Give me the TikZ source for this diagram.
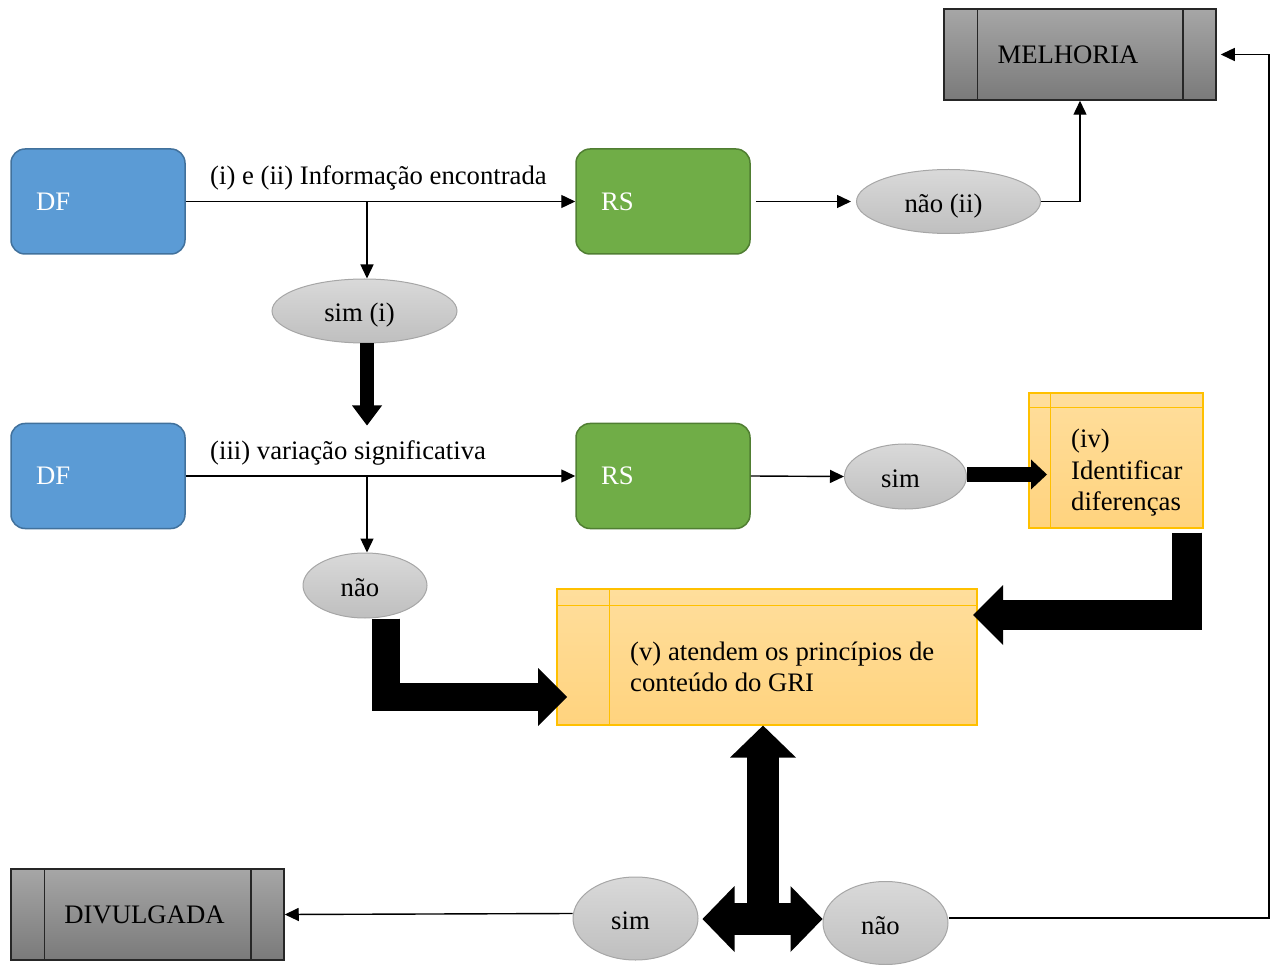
\documentclass[tikz,border=0pt]{standalone}
\usepackage{fontspec}
\setmainfont{Liberation Serif}
\usetikzlibrary{arrows.meta,shapes.geometric,calc}

\definecolor{dfblue}{HTML}{5B9BD5}
\definecolor{dfedge}{HTML}{41719C}
\definecolor{rsgreen}{HTML}{70AD47}
\definecolor{rsedge}{HTML}{507E32}
\definecolor{ylwtop}{HTML}{FFDE9C}
\definecolor{ylwbot}{HTML}{FFD37E}
\definecolor{ylwedge}{HTML}{FFC000}
\definecolor{elltop}{HTML}{D9D9D9}
\definecolor{ellbot}{HTML}{BFBFBF}
\definecolor{elledge}{HTML}{A6A6A6}
\definecolor{grytop}{HTML}{A6A6A6}
\definecolor{grybot}{HTML}{7A7A7A}
\definecolor{gryedge}{HTML}{262626}

\begin{document}
\begin{tikzpicture}[x=1pt,y=-1pt,
  every node/.style={font=\fontsize{26.7}{31.5}\selectfont},
  srcbox/.style={rectangle, rounded corners=14pt, minimum width=174pt,
    minimum height=105pt, text width=124pt, inner xsep=25pt, align=left,
    text=white, line width=1.5pt},
  dfbox/.style={srcbox, fill=dfblue, draw=dfedge},
  rsbox/.style={srcbox, fill=rsgreen, draw=rsedge},
  ell/.style={ellipse, draw=elledge, line width=1pt, top color=elltop,
    bottom color=ellbot, inner sep=0pt, text height=24pt, text depth=2pt,
    execute at begin node=\hspace*{-10pt}},
  grybox/.style={rectangle, draw=gryedge, line width=1.5pt, top color=grytop,
    bottom color=grybot, minimum width=272pt, minimum height=91pt, inner sep=0pt},
  ylwbox/.style={rectangle, draw=ylwedge, line width=1.2pt, top color=ylwtop,
    bottom color=ylwbot, inner sep=0pt},
  txt/.style={inner sep=0pt, anchor=west, align=left},
  conn/.style={line width=1.4pt, -{Triangle[length=14pt,width=13pt]}},
  fat/.style={line width=#1, line join=miter, line cap=butt},
]
\useasboundingbox (0,0) rectangle (1275,965);

% source / result boxes
\node[dfbox] (df1) at (98,201.5) {DF};
\node[rsbox] (rs1) at (663,201.5) {RS};
\node[dfbox] (df2) at (98,476) {DF};
\node[rsbox] (rs2) at (663,476) {RS};

% decision ellipses
\node[ell, minimum width=185pt, minimum height=64pt] (simi) at (364.5,311) {sim (i)};
\node[ell, minimum width=184pt, minimum height=64pt] (naoii) at (948.5,201.5) {não (ii)};
\node[ell, minimum width=122pt, minimum height=65pt] (sim1) at (905.5,476.5) {sim};
\node[ell, minimum width=124pt, minimum height=65pt] (nao1) at (365,585.5) {não};
\node[ell, minimum width=125pt, minimum height=83pt] (sim2) at (635.5,918.5) {sim};
\node[ell, minimum width=125pt, minimum height=83pt] (nao2) at (885.5,923) {não};

% outcome boxes
\node[grybox] (mel) at (1080,54.5) {\hspace*{-24pt}MELHORIA};
\draw[gryedge, line width=1.5pt] ([xshift=34pt]mel.north west) -- ([xshift=34pt]mel.south west)
  ([xshift=-34pt]mel.north east) -- ([xshift=-34pt]mel.south east);
\node[grybox, minimum width=273pt] (div) at (147.5,914.5) {\hspace*{-6pt}DIVULGADA};
\draw[gryedge, line width=1.5pt] ([xshift=34pt]div.north west) -- ([xshift=34pt]div.south west)
  ([xshift=-34pt]div.north east) -- ([xshift=-34pt]div.south east);

% process boxes
\node[ylwbox, minimum width=174pt, minimum height=135pt] (iv) at (1116,460.5) {};
\draw[ylwedge, line width=1.2pt] ([yshift=-15pt]iv.north west) -- ([yshift=-15pt]iv.north east)
  ([xshift=22pt]iv.north west) -- ([xshift=22pt]iv.south west);
\node[txt] (ivtext) at (1071,473) {(iv)\\Identificar\\diferenças};

\node[ylwbox, minimum width=420pt, minimum height=136pt] (v) at (767,657) {};
\draw[ylwedge, line width=1.2pt] ([yshift=-17pt]v.north west) -- ([yshift=-17pt]v.north east)
  ([xshift=53pt]v.north west) -- ([xshift=53pt]v.south west);
\node[txt] (vtext) at (630,667) {(v) atendem os princípios de\\conteúdo do GRI};

% line labels
\node[txt] (lab1) at (210,178) {(i) e (ii) Informação encontrada};
\node[txt] (lab2) at (210,453) {(iii) variação significativa};

% thin connectors
\draw[conn] (df1.east) -- (rs1.west);
\coordinate (j1) at (367,201.5);
\draw[conn] (j1) -- (j1 |- simi.north);
\draw[conn] ([xshift=5pt]rs1.east) -- ([xshift=-5pt]naoii.west);
\draw[conn] (naoii.east) -| (mel.south);
\draw[conn] (df2.east) -- (rs2.west);
\coordinate (j2) at (367,476);
\draw[conn] (j2) -- (j2 |- nao1.north);
\draw[conn] (rs2.east) -- (sim1.west);
\draw[conn] ([yshift=5pt]sim2.west) -- (div.east);
\coordinate (cr) at (1269,54.5);
\draw[conn] ([yshift=5pt]nao2.east) -| (cr) -- ([xshift=4pt]mel.east);

% block arrows (tip, then the shaft again reaching into the tip)
\draw[fat=14pt, -{Triangle[length=20pt,width=30pt,line width=0pt]}]
  ([xshift=2.5pt]simi.south) -- ++(0,82);
\draw[fat=14pt, shorten >=14pt] ([xshift=2.5pt]simi.south) -- ++(0,82);

\draw[fat=15pt, -{Triangle[length=16pt,width=30pt,line width=0pt]}]
  ([yshift=2pt]sim1.east) -- ++(80,0);
\draw[fat=15pt, shorten >=10pt] ([yshift=2pt]sim1.east) -- ++(80,0);

\coordinate (t3) at (973,615);
\draw[fat=30pt, -{Triangle[length=30pt,width=60pt,line width=0pt]}]
  ([xshift=-17pt,yshift=-4pt]iv.south east) |- (t3);
\draw[fat=30pt, shorten >=22pt] ([xshift=-17pt,yshift=-4pt]iv.south east) |- (t3);

\coordinate (t4) at (567,697);
\draw[fat=28pt, -{Triangle[length=29pt,width=58pt,line width=0pt]}]
  ([xshift=20.5pt]nao1.south) |- (t4);
\draw[fat=28pt, shorten >=22pt] ([xshift=20.5pt]nao1.south) |- (t4);

\coordinate (hub) at (763,919);
\draw[fat=32pt, -{Triangle[length=32pt,width=66pt,line width=0pt]}]
  (hub) -- (hub |- v.south);
\draw[fat=32pt, shorten >=24pt] (hub) -- (hub |- v.south);
\draw[fat=32pt, {Triangle[length=32pt,width=66pt,line width=0pt]}-{Triangle[length=32pt,width=66pt,line width=0pt]}]
  ([xshift=4pt]sim2.east |- hub) -- (nao2.west |- hub);
\draw[fat=32pt, shorten <=24pt, shorten >=24pt]
  ([xshift=4pt]sim2.east |- hub) -- (nao2.west |- hub);
\end{tikzpicture}
\end{document}
